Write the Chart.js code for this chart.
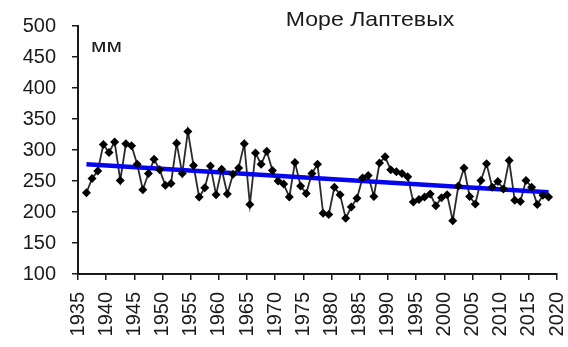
<!DOCTYPE html>
<html>
<head>
<meta charset="utf-8">
<script src="https://cdn.jsdelivr.net/npm/chart.js@4/dist/chart.umd.min.js"></script>
<style>
  html, body { margin: 0; padding: 0; background: #fff; }
  #wrap { width: 568px; height: 347px; }
</style>
</head>
<body>
<div id="wrap"><canvas id="c" width="568" height="347"></canvas></div>
<script>
// Annual precipitation, Laptev Sea, mm
const years = [
  1936, 1937, 1938, 1939, 1940, 1941, 1942, 1943, 1944, 1945,
  1946, 1947, 1948, 1949, 1950, 1951, 1952, 1953, 1954, 1955,
  1956, 1957, 1958, 1959, 1960, 1961, 1962, 1963, 1964, 1965,
  1966, 1967, 1968, 1969, 1970, 1971, 1972, 1973, 1974, 1975,
  1976, 1977, 1978, 1979, 1980, 1981, 1982, 1983, 1984, 1985,
  1986, 1987, 1988, 1989, 1990, 1991, 1992, 1993, 1994, 1995,
  1996, 1997, 1998, 1999, 2000, 2001, 2002, 2003, 2004, 2005,
  2006, 2007, 2008, 2009, 2010, 2011, 2012, 2013, 2014, 2015,
  2016, 2017, 2018
];
const precipitation = [
  231, 254, 266, 309, 296, 313, 251, 310, 307, 277,
  236, 262, 285, 268, 243, 246, 311, 262, 330, 275,
  224, 239, 274, 228, 269, 229, 261, 271, 310, 212,
  295, 277, 298, 267, 250, 245, 224, 280, 242, 230,
  262, 277, 198, 196, 240, 228, 190, 208, 222, 255,
  259, 225, 279, 289, 268, 265, 262, 257, 216, 220,
  224, 229, 210, 223, 228, 186, 242, 271, 225, 213,
  251, 278, 240, 249, 237, 283, 219, 217, 251, 240,
  212, 227, 224
];
// Linear trend, value at the first and the last year
const trendYears = [1936, 2018];
const trendValues = [277, 232];

const xTicks = [1935, 1940, 1945, 1950, 1955, 1960, 1965, 1970, 1975, 1980,
                1985, 1990, 1995, 2000, 2005, 2010, 2015, 2020];
const yTicks = [100, 150, 200, 250, 300, 350, 400, 450, 500];

const titleText = 'Море Лаптевых';
const unitText = 'мм';

// each annual value sits in the middle of its year
const mid = y => y + 0.5;
const seriesPoints = years.map((y, i) => ({ x: mid(y), y: precipitation[i] }));
const trendPoints = trendYears.map((y, i) => ({ x: mid(y), y: trendValues[i] }));

const FONT = 'Liberation Sans, Arial, sans-serif';
const INK = '#1a1a1a';

const captions = {
  id: 'captions',
  afterDraw(chart) {
    const ctx = chart.ctx;
    ctx.save();
    ctx.fillStyle = INK;
    ctx.textBaseline = 'middle';

    ctx.save();
    ctx.font = '21px ' + FONT;
    ctx.textAlign = 'center';
    ctx.translate(370, 20);
    ctx.scale(1.1, 1);
    ctx.fillText(titleText, 0, 0);
    ctx.restore();

    ctx.save();
    ctx.font = '18px ' + FONT;
    ctx.textAlign = 'left';
    ctx.translate(91, 47);
    ctx.scale(1.25, 1);
    ctx.fillText(unitText, 0, 0);
    ctx.restore();

    ctx.restore();
  }
};

new Chart(document.getElementById('c'), {
  type: 'line',
  data: {
    datasets: [
      {
        data: seriesPoints,
        borderColor: '#2a2a2a',
        borderWidth: 1.8,
        pointRadius: 0,
        tension: 0,
        order: 3
      },
      {
        data: trendPoints,
        borderColor: '#0505f0',
        borderWidth: 4.5,
        pointRadius: 0,
        tension: 0,
        order: 2
      },
      {
        data: seriesPoints,
        showLine: false,
        pointStyle: 'rectRot',
        pointRadius: 4.5,
        pointBackgroundColor: '#000',
        pointBorderWidth: 0,
        order: 1
      }
    ]
  },
  options: {
    responsive: false,
    animation: false,
    devicePixelRatio: 1,
    layout: { padding: { top: 26, right: 11, left: 0, bottom: 0 } },
    plugins: {
      legend: { display: false },
      tooltip: { enabled: false },
      title: { display: false }
    },
    scales: {
      x: {
        type: 'linear',
        min: 1935,
        max: 2020,
        afterBuildTicks(s) { s.ticks = xTicks.map(v => ({ value: v })); },
        afterFit(s) { s.height = 73; s.paddingLeft = 0; s.paddingRight = 0; },
        ticks: {
          autoSkip: false,
          minRotation: 90,
          maxRotation: 90,
          padding: 12,
          color: INK,
          font: { family: FONT, size: 20 },
          callback: v => String(v)
        },
        grid: { drawOnChartArea: false, tickLength: 6, color: INK, lineWidth: 1.5 },
        border: { color: INK, width: 2 }
      },
      y: {
        min: 100,
        max: 500,
        afterBuildTicks(s) { s.ticks = yTicks.map(v => ({ value: v })); },
        afterFit(s) { s.width = 78; s.paddingTop = 0; s.paddingBottom = 0; },
        ticks: {
          padding: 16,
          color: INK,
          font: { family: FONT, size: 20 },
          callback: v => String(v)
        },
        grid: { drawOnChartArea: false, tickLength: 6, color: INK, lineWidth: 1.5 },
        border: { color: INK, width: 2 }
      }
    }
  },
  plugins: [captions]
});
</script>
</body>
</html>
